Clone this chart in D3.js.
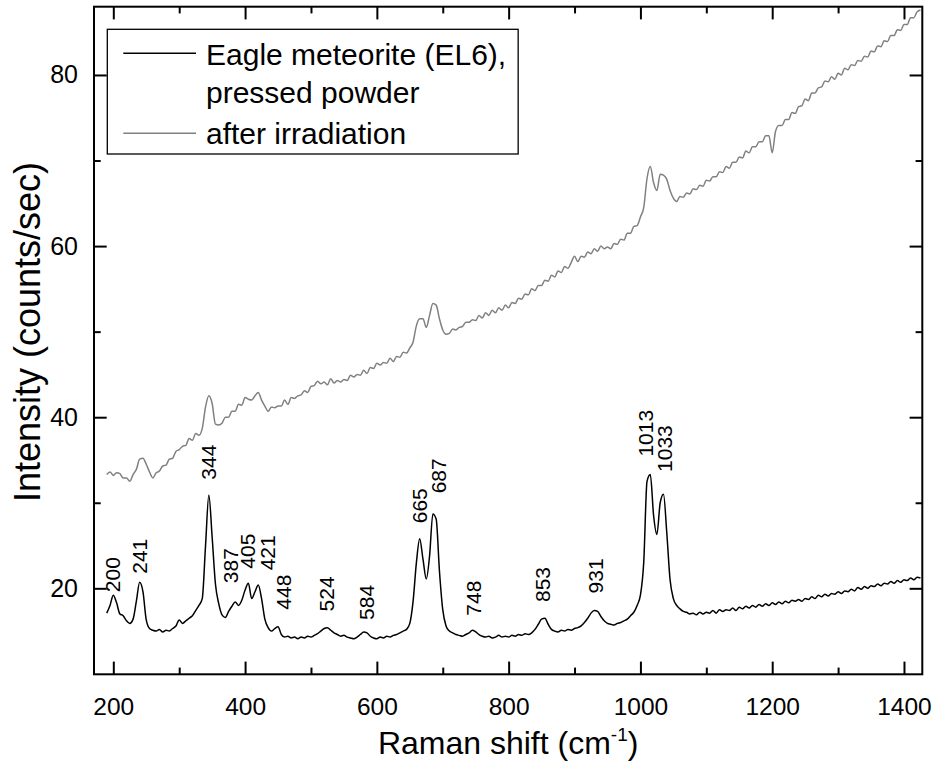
<!DOCTYPE html>
<html><head><meta charset="utf-8">
<script src="https://cdn.jsdelivr.net/npm/d3@7/dist/d3.min.js"></script>
<style>
body{margin:0;background:#fff}
svg{display:block}
text{font-family:"Liberation Sans",Arial,Helvetica,sans-serif;fill:#000}
</style>
</head><body>
<svg id="chart" width="938" height="765"></svg>
<script>
// ---------------- data ----------------
const ramanShift = [
 190,195,200,205,210,215,220,225,230,235,
 240,245,250,255,260,265,270,275,280,285,
 290,295,300,305,310,315,320,325,330,335,
 340,345,350,355,360,365,370,375,380,385,
 390,395,400,405,410,415,420,425,430,435,
 440,445,450,455,460,465,470,475,480,485,
 490,495,500,505,510,515,520,525,530,535,
 540,545,550,555,560,565,570,575,580,585,
 590,595,600,605,610,615,620,625,630,635,
 640,645,650,655,660,665,670,675,680,685,
 690,695,700,705,710,715,720,725,730,735,
 740,745,750,755,760,765,770,775,780,785,
 790,795,800,805,810,815,820,825,830,835,
 840,845,850,855,860,865,870,875,880,885,
 890,895,900,905,910,915,920,925,930,935,
 940,945,950,955,960,965,970,975,980,985,
 990,995,1000,1005,1010,1015,1020,1025,1030,1035,
 1040,1045,1050,1055,1060,1065,1070,1075,1080,1085,
 1090,1095,1100,1105,1110,1115,1120,1125,1130,1135,
 1140,1145,1150,1155,1160,1165,1170,1175,1180,1185,
 1190,1195,1200,1205,1210,1215,1220,1225,1230,1235,
 1240,1245,1250,1255,1260,1265,1270,1275,1280,1285,
 1290,1295,1300,1305,1310,1315,1320,1325,1330,1335,
 1340,1345,1350,1355,1360,1365,1370,1375,1380,1385,
 1390,1395,1400,1405,1410,1415,1420,1425
];
const eaglePowder = [
 17.1,18.0,19.2,18.3,17.0,16.8,16.2,15.9,16.4,18.5,
 20.7,19.6,16.3,15.3,15.1,15.0,15.2,14.9,15.1,15.0,
 15.3,15.6,16.3,15.9,16.2,16.5,16.8,17.4,18.0,18.8,
 25.0,30.9,26.0,20.5,18.2,16.9,16.6,17.3,17.9,18.4,
 18.0,18.6,19.8,20.6,18.8,19.6,20.4,18.8,16.4,15.4,
 15.0,15.3,15.5,14.6,14.3,14.4,14.2,14.3,14.1,14.3,
 14.2,14.4,14.3,14.5,14.7,15.0,15.3,15.4,15.1,14.8,
 14.6,14.4,14.5,14.3,14.2,14.1,14.3,14.6,14.9,14.8,
 14.4,14.2,14.1,14.3,14.2,14.4,14.3,14.5,14.6,14.8,
 15.0,15.2,15.9,18.5,23.0,25.8,23.4,21.1,23.8,28.7,
 28.1,22.0,17.5,15.6,15.0,14.8,14.6,14.5,14.4,14.6,
 14.8,15.1,14.9,14.6,14.4,14.3,14.4,14.2,14.3,14.5,
 14.3,14.4,14.3,14.5,14.4,14.6,14.5,14.7,14.6,14.8,
 15.2,15.8,16.4,16.5,15.8,15.2,15.0,14.9,15.1,15.0,
 15.2,15.1,15.3,15.4,15.6,16.0,16.5,17.1,17.4,17.3,
 16.7,16.2,15.9,15.8,15.7,15.9,16.0,16.2,16.4,16.8,
 17.2,18.0,19.2,23.0,32.5,33.3,28.5,26.3,30.0,31.0,
 26.5,21.0,18.8,18.0,17.6,17.3,17.2,17.0,17.1,16.9,
 17.2,17.0,17.2,17.1,17.4,17.1,17.5,17.3,17.5,17.4,
 17.7,17.4,17.8,17.6,17.9,17.7,18.0,17.8,18.1,17.9,
 18.2,18.0,18.3,18.1,18.4,18.2,18.5,18.3,18.6,18.5,
 18.7,18.5,18.8,18.7,19.0,18.8,19.2,19.0,19.3,19.1,
 19.4,19.3,19.6,19.4,19.7,19.6,19.9,19.7,20.1,19.9,
 20.2,20.0,20.3,20.2,20.5,20.3,20.6,20.5,20.8,20.6,
 20.9,20.7,21.0,20.9,21.2,21.0,21.3,21.2
];
const afterIrradiation = [
 33.3,33.6,33.2,33.5,33.4,32.9,32.9,32.5,33.3,33.9,
 35.1,35.2,34.5,33.6,32.9,33.5,33.7,34.3,34.4,35.1,
 35.2,36.0,36.2,36.6,36.7,37.5,37.3,38.1,37.9,38.7,
 41.2,42.5,41.6,39.2,39.1,39.3,40.0,40.0,40.7,40.7,
 41.5,41.4,42.3,42.1,42.0,42.5,42.9,42.0,41.3,40.7,
 41.2,41.1,41.3,41.3,42.0,41.5,42.3,42.2,42.5,42.6,
 43.1,42.9,43.6,43.7,44.2,43.9,44.1,43.8,44.5,44.0,
 44.3,44.1,44.4,44.3,44.9,44.7,45.0,44.9,45.5,45.1,
 45.8,45.7,46.3,46.1,46.4,46.3,46.9,46.5,47.1,47.0,
 47.6,47.5,48.1,48.8,50.7,51.5,51.5,50.5,51.9,53.3,
 53.1,51.5,50.2,49.7,49.8,50.3,50.2,50.5,50.6,51.1,
 51.1,51.4,51.3,51.9,51.6,52.2,51.9,52.5,52.2,52.8,
 52.5,53.1,52.8,53.4,53.3,53.9,53.8,54.4,54.3,55.0,
 54.8,55.4,55.4,56.0,55.9,56.6,56.4,57.1,56.9,57.6,
 57.4,58.1,58.8,58.2,58.8,58.7,59.3,59.1,59.7,59.4,
 60.0,59.7,59.9,59.7,60.3,60.2,60.8,60.7,61.5,61.5,
 62.3,62.4,63.4,64.5,67.9,69.3,67.4,66.5,68.4,68.3,
 67.8,66.5,65.6,65.2,65.8,65.7,66.2,66.1,66.7,66.6,
 67.1,67.0,67.7,67.6,68.1,68.1,68.7,68.6,69.3,69.1,
 69.8,69.8,70.4,70.3,71.1,70.9,71.6,71.6,72.2,72.2,
 72.9,72.9,70.9,73.4,74.1,74.1,74.8,74.8,75.6,75.5,
 76.3,76.4,77.2,77.0,77.9,77.9,78.5,78.6,79.3,79.2,
 79.8,79.5,80.2,80.0,80.8,80.6,81.2,81.1,81.7,81.6,
 82.2,82.1,82.8,82.7,83.4,83.3,84.0,83.9,84.6,84.6,
 85.3,85.2,85.9,85.9,86.7,86.7,87.4,87.6
];
const xMajorTicks = [200,400,600,800,1000,1200,1400];
const xMinorTicks = [300,500,700,900,1100,1300];
const yMajorTicks = [20,40,60,80];
const yMinorTicks = [30,50,70];
const peakLabels = ["200","241","344","387","405","421","448","524","584","665","687","748","853","931","1013","1033"];
const peakLabelX = [198,240,345,378,404,434,458,523,584,664,694,746,852,931,1008,1037];
const peakLabelY = [19.55,21.7,32.7,20.6,22.3,22.1,17.5,17.3,16.3,27.6,31.1,16.8,18.4,19.4,35.4,33.6];
const legendLabels = [["Eagle meteorite (EL6),","pressed powder"],["after irradiation"]];
const seriesColors = ["#000000","#808080"];
const xTitle = "Raman shift (cm";
const yTitle = "Intensity (counts/sec)";

// ---------------- chart ----------------
const svg = d3.select("#chart");
const L = 94, R = 922.3, T = 6.7, B = 674.3;
const x = d3.scaleLinear().domain([170.7, 1427.8]).range([L, R]);
const y = d3.scaleLinear().domain([9.95, 87.98]).range([B, T]);

svg.append("defs").append("clipPath").attr("id","clip")
  .append("rect").attr("x",L).attr("y",T).attr("width",R-L).attr("height",B-T);

const majorLen = 12.7, minorLen = 6.7;
function styleAxis(g){
  g.select(".domain").remove();
  g.selectAll(".tick line").attr("stroke","#000").attr("stroke-width",2);
}
// bottom
svg.append("g").attr("transform",`translate(0,${B})`)
  .call(d3.axisBottom(x).tickValues(xMajorTicks).tickSize(-majorLen).tickPadding(23).tickFormat(d3.format("d")))
  .call(styleAxis)
  .call(g=>g.selectAll("text").attr("font-size",24.5).attr("fill","#000"));
svg.append("g").attr("transform",`translate(0,${B})`)
  .call(d3.axisBottom(x).tickValues(xMinorTicks).tickSize(-minorLen).tickFormat(""))
  .call(styleAxis);
// top
svg.append("g").attr("transform",`translate(0,${T})`)
  .call(d3.axisTop(x).tickValues(xMajorTicks).tickSize(-majorLen).tickFormat(""))
  .call(styleAxis);
svg.append("g").attr("transform",`translate(0,${T})`)
  .call(d3.axisTop(x).tickValues(xMinorTicks).tickSize(-minorLen).tickFormat(""))
  .call(styleAxis);
// left
svg.append("g").attr("transform",`translate(${L},0)`)
  .call(d3.axisLeft(y).tickValues(yMajorTicks).tickSize(-majorLen).tickPadding(16).tickFormat(d3.format("d")))
  .call(styleAxis)
  .call(g=>g.selectAll("text").attr("font-size",25).attr("fill","#000"));
svg.append("g").attr("transform",`translate(${L},0)`)
  .call(d3.axisLeft(y).tickValues(yMinorTicks).tickSize(-minorLen).tickFormat(""))
  .call(styleAxis);
// right
svg.append("g").attr("transform",`translate(${R},0)`)
  .call(d3.axisRight(y).tickValues(yMajorTicks).tickSize(-majorLen).tickFormat(""))
  .call(styleAxis);
svg.append("g").attr("transform",`translate(${R},0)`)
  .call(d3.axisRight(y).tickValues(yMinorTicks).tickSize(-minorLen).tickFormat(""))
  .call(styleAxis);

// spectra
const line = d3.line().curve(d3.curveMonotoneX).x((d,i)=>x(ramanShift[i])).y(d=>y(d));
const plot = svg.append("g").attr("clip-path","url(#clip)");
plot.append("path").datum(afterIrradiation).attr("d",line)
  .attr("fill","none").attr("stroke",seriesColors[1]).attr("stroke-width",1.5).attr("stroke-linejoin","round");
plot.append("path").datum(eaglePowder).attr("d",line)
  .attr("fill","none").attr("stroke",seriesColors[0]).attr("stroke-width",1.5).attr("stroke-linejoin","round");

// frame
svg.append("rect").attr("x",L).attr("y",T).attr("width",R-L).attr("height",B-T)
  .attr("fill","none").attr("stroke","#000").attr("stroke-width",2);

// peak labels
svg.append("g").selectAll("text").data(peakLabels).join("text")
  .attr("transform",(d,i)=>`translate(${x(peakLabelX[i])},${y(peakLabelY[i])}) rotate(-90)`)
  .attr("dy","0.36em").attr("text-anchor","start").attr("font-size",21)
  .text(d=>d);

// legend
const leg = svg.append("g");
const legX = 107.3, legY = 29.3, legH = 124.7;
const legRect = leg.append("rect").attr("x",legX).attr("y",legY).attr("height",legH)
  .attr("fill","#fff").attr("stroke","#000").attr("stroke-width",1.3);
const lineYs = [53.3, 133.3];
const textYs = [[65.3,103],[143.5]];
let maxRight = 0;
legendLabels.forEach((lines,i)=>{
  leg.append("line").attr("x1",123.3).attr("x2",196).attr("y1",lineYs[i]).attr("y2",lineYs[i])
    .attr("stroke",seriesColors[i]).attr("stroke-width",1.6);
  lines.forEach((t,j)=>{
    const tx = leg.append("text").attr("x",206).attr("y",textYs[i][j]).attr("font-size",30).text(t);
    maxRight = Math.max(maxRight, 206 + tx.node().getComputedTextLength());
  });
});
legRect.attr("width", maxRight + 12 - legX);

// axis titles
const xt = svg.append("text").attr("x",(L+R)/2).attr("y",754)
  .attr("text-anchor","middle").attr("font-size",32);
xt.append("tspan").text(xTitle);
xt.append("tspan").attr("font-size",19).attr("dy",-13).text("-1");
xt.append("tspan").attr("dy",13).text(")");
svg.append("text")
  .attr("transform",`translate(40,332) rotate(-90)`)
  .attr("text-anchor","middle").attr("font-size",36).text(yTitle);
</script>
</body></html>
